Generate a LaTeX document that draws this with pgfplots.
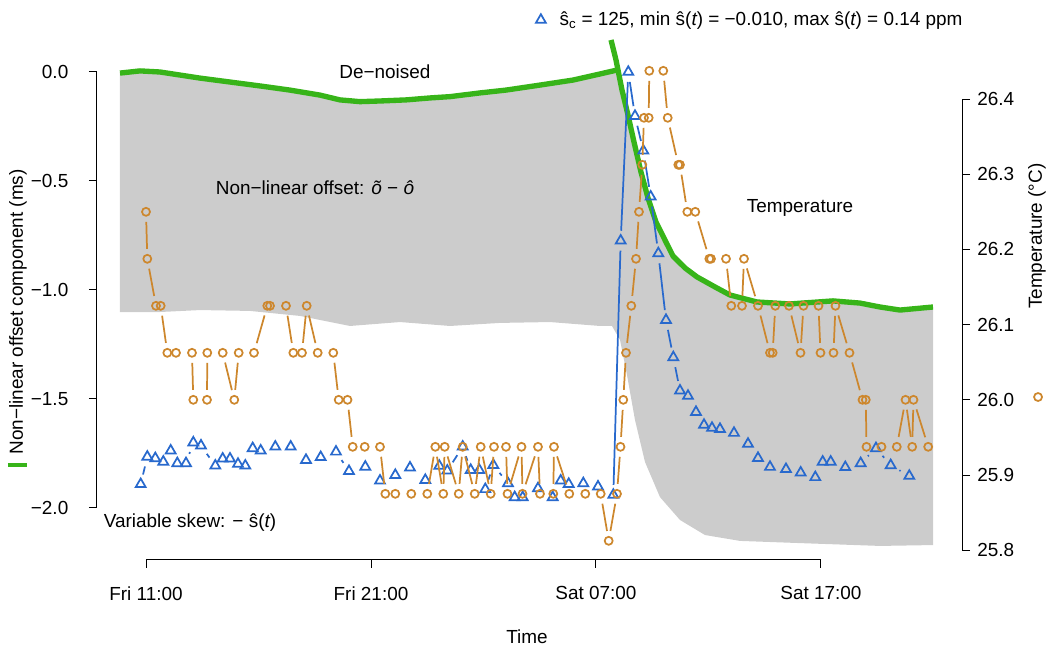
\documentclass[border=0pt]{standalone}
\usepackage{fontspec}
\setmainfont{Liberation Sans}
\usepackage{pgfplots}
\usepackage{pgfplotstable}
\pgfplotsset{compat=1.18}

\definecolor{skewblue}{RGB}{40,105,205}
\definecolor{tempor}{RGB}{205,135,45}
\definecolor{denoise}{RGB}{55,180,25}
\definecolor{cloudgray}{RGB}{204,204,204}

\newcommand\lab{\fontsize{14.2}{17}\selectfont}

% polyline with a gap round every point; short links are left out
% #1 table, #2 style, #3 px per x unit, #4 px per y unit, #5 gap (px)
\newcommand\gappedline[5]{%
  \pgfplotstablegetrowsof{#1}%
  \pgfmathtruncatemacro\gapN{\pgfplotsretval-2}%
  \pgfplotsforeachungrouped \gi in {0,...,\gapN}{%
    \pgfplotstablegetelem{\gi}{x}\of#1\let\gxa\pgfplotsretval
    \pgfplotstablegetelem{\gi}{y}\of#1\let\gya\pgfplotsretval
    \pgfmathtruncatemacro\gj{\gi+1}%
    \pgfplotstablegetelem{\gj}{x}\of#1\let\gxb\pgfplotsretval
    \pgfplotstablegetelem{\gj}{y}\of#1\let\gyb\pgfplotsretval
    \pgfmathtruncatemacro\gdo{veclen(#3*(\gxb-\gxa),#4*(\gyb-\gya))>(2*#5+1)}%
    \ifnum\gdo=1
      \edef\gcmd{\noexpand\addplot[#2] coordinates {(\gxa,\gya) (\gxb,\gyb)};}%
      \gcmd
    \fi
  }%
}

% time in hours from Fri 00:00
\pgfplotstableread{
x y
10.764 -1.891
11.058 -1.765
11.413 -1.772
11.769 -1.788
12.098 -1.737
12.391 -1.795
12.778 -1.795
13.102 -1.700
13.444 -1.714
14.080 -1.806
14.409 -1.774
14.733 -1.774
15.089 -1.798
15.413 -1.806
15.742 -1.726
16.098 -1.737
16.747 -1.719
17.431 -1.719
18.111 -1.780
18.764 -1.767
19.444 -1.742
20.022 -1.831
20.747 -1.811
21.400 -1.875
22.080 -1.849
22.733 -1.815
23.413 -1.872
24.036 -1.807
24.391 -1.829
25.076 -1.719
25.431 -1.826
25.813 -1.826
26.080 -1.914
26.436 -1.803
27.089 -1.887
27.387 -1.951
27.742 -1.951
28.422 -1.910
29.076 -1.951
29.431 -1.875
29.787 -1.890
30.436 -1.887
31.089 -1.902
31.769 -1.940
32.098 -0.774
32.436 0.000
32.733 -0.202
33.102 -0.361
33.431 -0.572
33.769 -0.832
34.111 -1.138
34.436 -1.309
34.733 -1.462
35.089 -1.486
35.444 -1.560
35.800 -1.619
36.156 -1.633
36.511 -1.638
37.133 -1.656
37.756 -1.706
38.200 -1.771
38.733 -1.812
39.444 -1.822
40.098 -1.838
40.747 -1.859
41.076 -1.788
41.431 -1.788
42.080 -1.813
42.764 -1.795
43.444 -1.726
44.098 -1.804
44.924 -1.853
}\skewdata

\pgfplotstableread{
x y
11.000 26.25
11.058 26.1875
11.444 26.125
11.653 26.125
11.947 26.0625
12.333 26.0625
13.044 26.0625
13.102 26.0
13.711 26.0
13.724 26.0625
14.409 26.0625
14.924 26.0
15.120 26.0625
15.800 26.0625
16.391 26.125
16.511 26.125
17.222 26.125
17.547 26.0625
17.933 26.0625
18.142 26.125
18.631 26.0625
19.324 26.0625
19.564 26.0
19.956 26.0
20.187 25.9375
20.720 25.9375
21.400 25.9375
21.636 25.875
22.080 25.875
22.791 25.875
23.502 25.875
23.858 25.9375
24.213 25.875
24.276 25.9375
24.898 25.875
25.076 25.9375
25.609 25.875
25.876 25.9375
26.320 25.875
26.467 25.9375
27.000 25.9375
27.067 25.875
27.689 25.9375
27.733 25.875
28.422 25.9375
28.511 25.875
29.102 25.875
29.133 25.9375
29.813 25.875
30.524 25.875
31.209 25.875
31.564 25.8125
31.933 25.875
32.089 25.9375
32.213 26.0
32.333 26.0625
32.569 26.125
32.778 26.1875
32.911 26.25
33.058 26.3125
33.133 26.375
33.342 26.375
33.369 26.4375
33.991 26.4375
34.187 26.375
34.658 26.3125
34.733 26.3125
35.058 26.25
35.413 26.25
36.036 26.1875
36.111 26.1875
36.778 26.1875
37.013 26.125
37.489 26.125
37.578 26.1875
38.200 26.125
38.733 26.0625
38.853 26.0625
38.969 26.125
39.578 26.125
40.089 26.0625
40.222 26.125
40.889 26.125
40.978 26.0625
41.556 26.0625
41.644 26.125
42.267 26.0625
42.844 26.0
42.991 26.0
43.022 25.9375
43.689 25.9375
44.369 25.9375
44.756 26.0
45.053 25.9375
45.111 26.0
45.764 25.9375
}\tempdata

\pgfplotstableread{
x y
9.844 -0.005
10.733 0.005
11.622 0.000
12.511 -0.014
13.400 -0.028
14.733 -0.046
16.067 -0.064
17.400 -0.083
18.733 -0.106
19.622 -0.128
20.511 -0.136
21.400 -0.133
22.556 -0.128
23.622 -0.119
24.511 -0.113
25.844 -0.096
27.000 -0.083
28.511 -0.060
29.978 -0.037
31.178 -0.009
31.933 0.009
}\denoiseA

\pgfplotstableread{
x y
31.667 0.147
31.889 0.055
32.156 -0.083
32.422 -0.197
32.689 -0.321
33.000 -0.459
33.311 -0.578
33.667 -0.688
34.111 -0.780
34.422 -0.844
34.956 -0.899
35.489 -0.940
36.289 -0.986
36.956 -1.023
38.156 -1.055
39.622 -1.064
41.533 -1.050
42.733 -1.060
43.622 -1.078
44.511 -1.092
45.978 -1.078
}\denoiseB

% outline of the raw non-linear offset cloud
\pgfplotstableread{
x y
9.844 -0.005
10.733 0.005
11.622 0.000
12.511 -0.014
13.400 -0.028
14.733 -0.046
16.067 -0.064
17.400 -0.083
18.733 -0.106
19.622 -0.128
20.511 -0.136
21.400 -0.133
22.556 -0.128
23.622 -0.119
24.511 -0.113
25.844 -0.096
27.000 -0.083
28.511 -0.060
29.978 -0.037
31.178 -0.009
31.933 0.009
32.000 -0.014
32.156 -0.083
32.422 -0.197
32.689 -0.321
33.000 -0.459
33.311 -0.578
33.667 -0.688
34.111 -0.780
34.422 -0.844
34.956 -0.899
35.489 -0.940
36.289 -0.986
36.956 -1.023
38.156 -1.055
39.622 -1.064
41.533 -1.050
42.733 -1.060
43.622 -1.078
44.511 -1.092
45.978 -1.085
45.978 -2.170
43.622 -2.174
40.067 -2.161
37.400 -2.151
35.844 -2.124
34.733 -2.055
33.844 -1.950
33.178 -1.789
32.733 -1.596
32.378 -1.390
32.067 -1.229
31.711 -1.165
31.178 -1.165
28.956 -1.147
26.733 -1.151
24.511 -1.165
22.289 -1.147
20.067 -1.165
17.844 -1.119
15.622 -1.096
13.400 -1.092
11.622 -1.101
9.844 -1.101
}\clouddata

\pgfplotsset{
  rbase/.style={
    at={(0,0)}, anchor=south west,
    scale only axis, width=648.75pt, height=397.5pt,
    xmin=8.822, xmax=47.267, clip=false,
    axis line style={draw=none},
    tick align=outside, major tick length=6pt,
    every tick/.style={black, line width=0.75pt},
    tick label style={font=\lab},
  },
}

\begin{document}
\begin{tikzpicture}
\begin{axis}[rbase,
    ymin=-2.2385, ymax=0.1927,
    axis x line*=bottom, axis y line*=left,
    xtick={11,21,31,41},
    xticklabels={Fri 11:00,Fri 21:00,Sat 07:00,Sat 17:00},
    ytick={-2,-1.5,-1,-0.5,0},
    yticklabels={−2.0,−1.5,−1.0,−0.5,0.0},
    xticklabel style={yshift=-10.5pt},
    yticklabel style={xshift=-12pt},
    legend style={at={(1.004,1.0189)}, anchor=east, draw=none, fill=none,
      font=\lab, inner sep=0pt},
  ]
  \addlegendimage{legend image code/.code={%
      \path[draw=none, fill=none] (-1pt,0pt) -- (13pt,0pt);
      \path[draw=skewblue, line width=1.3pt, mark=triangle, mark size=4.3pt]
        plot[only marks] coordinates {(1pt,0pt)};}}
  \addlegendentry{ŝ\textsubscript{c} = 125, min ŝ({\itshape t}) = −0.010, max ŝ({\itshape t}) = 0.14 ppm}

  % raw offset cloud
  \addplot[draw=none, fill=cloudgray] table {\clouddata};

  % de-noised offset
  \addplot[denoise, line width=4pt] table {\denoiseA};
  \addplot[denoise, line width=4pt] table {\denoiseB};

  % variable skew
  \gappedline{\skewdata}{skewblue, line width=1.3pt, shorten <=7.5pt, shorten >=7.5pt}{22.5}{218}{10}
  \addplot[only marks, mark=triangle, mark size=4.3pt,
    mark options={draw=skewblue, line width=1.3pt}] table {\skewdata};

  % axis lines over the tick range
  \draw[line width=0.75pt] (axis cs:11,-2.2385) -- (axis cs:41,-2.2385);
  \draw[line width=0.75pt] (axis cs:8.822,-2) -- (axis cs:8.822,0);

  \node[font=\lab] at (rel axis cs:0.3329,0.9208) {De−noised};
  \node[font=\lab] at (rel axis cs:0.2520,0.7019) {Non−linear offset: {\itshape õ} − {\itshape ô}};
  \node[font=\lab] at (rel axis cs:0.8127,0.6642) {Temperature};
  \node[font=\lab] at (rel axis cs:0.1075,0.0698) {Variable skew: − ŝ({\itshape t})};
  \node[font=\lab] at (rel axis cs:0.4971,-0.1453) {Time};
  \node[font=\lab, rotate=90] at (rel axis cs:-0.0913,0.468) {Non−linear offset component (ms)};
  \draw[denoise, line width=2.5pt] (rel axis cs:-0.1029,0.1792) -- (rel axis cs:-0.0809,0.1792);
\end{axis}

\begin{axis}[rbase,
    ymin=25.787, ymax=26.4918,
    axis x line=none, axis y line*=right,
    xtick=\empty,
    ytick={25.8,25.9,26.0,26.1,26.2,26.3,26.4},
    yticklabels={25.8,25.9,26.0,26.1,26.2,26.3,26.4},
    yticklabel style={xshift=2pt},
  ]
  \gappedline{\tempdata}{tempor, line width=1.3pt, shorten <=7.5pt, shorten >=7.5pt}{22.5}{752}{10}
  \addplot[only marks, mark=o, mark size=3pt,
    mark options={draw=tempor, line width=1.3pt}] table {\tempdata};

  \draw[line width=0.75pt] (axis cs:47.267,25.8) -- (axis cs:47.267,26.4);
  \node[font=\lab, rotate=90] at (rel axis cs:1.0867,0.611) {Temperature (°C)};
  \draw[tempor, line width=1.3pt] (rel axis cs:1.0879,0.3075) circle[radius=3pt];
\end{axis}
\pgfresetboundingbox
\useasboundingbox ([shift={(-72.75pt,-71.25pt)}]current axis.south west)
  rectangle ([shift={(714.75pt,420pt)}]current axis.south west);
\end{tikzpicture}
\end{document}
